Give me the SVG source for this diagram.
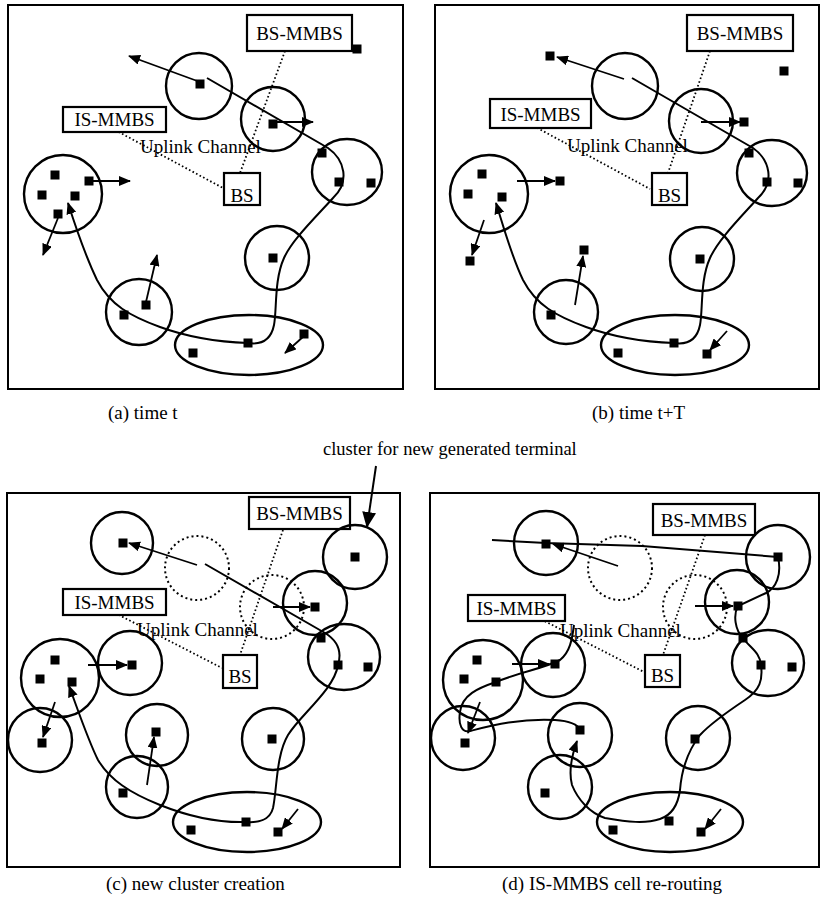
<svg xmlns="http://www.w3.org/2000/svg" width="821" height="901" viewBox="0 0 821 901">
<style>
.fr{fill:none;stroke:#000;stroke-width:2}
.c{fill:none;stroke:#000;stroke-width:2.4}
.dc{fill:none;stroke:#000;stroke-width:2;stroke-dasharray:2 3}
.bx{fill:#fff;stroke:#000;stroke-width:2.2}
.t{font-family:"Liberation Serif","Times New Roman",serif;font-size:19px;fill:#000}
.cap{font-family:"Liberation Serif","Times New Roman",serif;font-size:19px;fill:#000}
.mid{text-anchor:middle}
.sq{fill:#000}
.ln{fill:none;stroke:#000;stroke-width:2}
.ar{fill:none;stroke:#000;stroke-width:1.8;marker-end:url(#ah)}
.dl{fill:none;stroke:#000;stroke-width:1.8;stroke-dasharray:1.6 2.4}
</style>
<defs>
<marker id="ah" viewBox="0 0 12 10" refX="11" refY="5" markerWidth="12" markerHeight="10" markerUnits="userSpaceOnUse" orient="auto"><path d="M0,0 L12,5 L0,10 Z" fill="#000"/></marker>
<marker id="ahL" viewBox="0 0 16 14" refX="15" refY="7" markerWidth="16" markerHeight="14" markerUnits="userSpaceOnUse" orient="auto"><path d="M0,0 L16,7 L0,14 Z" fill="#000"/></marker>
<rect id="s" x="-4.5" y="-4.5" width="9" height="9" class="sq"/>
</defs>

<!-- ===== Panel (a) ===== -->
<g id="panel-a">
<rect class="fr" x="8" y="5" width="395" height="384"/>
<g id="a-links">
<line class="dl" x1="115" y1="130" x2="223" y2="188"/>
<line class="dl" x1="285" y1="51" x2="240" y2="173"/>
<path class="ln" d="M207,78 L328,148 C345,160 350,182 333,198 C315,218 292,240 284,258 C274,280 277,310 274,325 C271,340 262,345 248,343 C220,342 190,338 160,327 C130,316 110,305 97,280 C85,255 75,225 68,203" marker-end="url(#ah)"/>
<line class="ar" x1="200" y1="82" x2="129" y2="56"/>
<line class="ar" x1="273" y1="122" x2="313" y2="122"/>
<line class="ar" x1="89" y1="181" x2="130" y2="181"/>
<line class="ar" x1="58" y1="218" x2="43" y2="255"/>
<line class="ar" x1="146" y1="302" x2="157" y2="255"/>
<line class="ar" x1="304" y1="336" x2="285" y2="353"/>
</g>
<g id="a-bs-mmbs"><rect class="bx" x="247" y="15" width="105" height="36"/><text class="t mid" x="299.5" y="40">BS-MMBS</text></g>
<g id="a-is-mmbs"><rect class="bx" x="63" y="107" width="103" height="25"/><text class="t mid" x="114.5" y="126">IS-MMBS</text></g>
<g id="a-bs"><rect class="bx" x="224" y="173" width="36" height="32"/><text class="t mid" x="242" y="202">BS</text></g>
<text class="t" x="140" y="153">Uplink Channel</text>
<g id="a-c1"><circle class="c" cx="199" cy="86" r="33"/><use href="#s" x="200" y="84"/></g>
<g id="a-c2"><circle class="c" cx="273" cy="119" r="32"/><use href="#s" x="273" y="124"/></g>
<g id="a-c3"><ellipse class="c" cx="347" cy="172" rx="35" ry="33"/><use href="#s" x="322" y="153"/><use href="#s" x="339" y="182"/><use href="#s" x="371" y="183"/></g>
<g id="a-cl"><circle class="c" cx="63" cy="194" r="39"/><use href="#s" x="55" y="175"/><use href="#s" x="89" y="181"/><use href="#s" x="42" y="195"/><use href="#s" x="75" y="196"/><use href="#s" x="58" y="214"/></g>
<g id="a-cm"><circle class="c" cx="139" cy="312" r="33"/><use href="#s" x="124" y="315"/><use href="#s" x="146" y="305"/></g>
<g id="a-cr"><circle class="c" cx="277" cy="258" r="32"/><use href="#s" x="273" y="258"/></g>
<g id="a-e"><ellipse class="c" cx="249" cy="345" rx="74" ry="30"/><use href="#s" x="193" y="353"/><use href="#s" x="248" y="343"/><use href="#s" x="304" y="334"/></g>
<g id="a-lone"><use href="#s" x="357" y="49"/></g>
<text class="cap" x="108" y="419">(a) time t</text>
</g>

<!-- ===== Panel (b) ===== -->
<g id="panel-b">
<rect class="fr" x="435" y="5" width="384" height="384"/>
<g id="b-links">
<line class="dl" x1="530" y1="124" x2="650" y2="189"/>
<line class="dl" x1="710" y1="51" x2="668" y2="173"/>
<path class="ln" d="M632,78 L753,148 C770,160 775,182 758,198 C740,218 718,240 710,258 C700,280 703,310 700,325 C697,340 688,345 674,343 C646,342 616,338 586,327 C556,316 536,305 523,280 C511,255 503,225 496,203" marker-end="url(#ah)"/>
<line class="ar" x1="624" y1="79" x2="557" y2="57"/>
<line class="ar" x1="701" y1="122" x2="740" y2="122"/>
<line class="ar" x1="517" y1="181" x2="555" y2="181"/>
<line class="ar" x1="484" y1="220" x2="472" y2="255"/>
<line class="ar" x1="575" y1="305" x2="583" y2="256"/>
<line class="ar" x1="727" y1="331" x2="710" y2="350"/>
</g>
<g id="b-bs-mmbs"><rect class="bx" x="687" y="15" width="106" height="36"/><text class="t mid" x="740" y="40">BS-MMBS</text></g>
<g id="b-is-mmbs"><rect class="bx" x="490" y="99" width="101" height="29"/><text class="t mid" x="540.5" y="121">IS-MMBS</text></g>
<g id="b-bs"><rect class="bx" x="652" y="173" width="35" height="32"/><text class="t mid" x="669.5" y="202">BS</text></g>
<text class="t" x="567" y="152">Uplink Channel</text>
<g id="b-c1"><circle class="c" cx="625" cy="86" r="33"/></g>
<g id="b-c2"><circle class="c" cx="701" cy="121" r="32"/><use href="#s" x="744" y="122"/></g>
<g id="b-c3"><ellipse class="c" cx="772" cy="173" rx="35" ry="33"/><use href="#s" x="749" y="153"/><use href="#s" x="767" y="182"/><use href="#s" x="798" y="183"/></g>
<g id="b-cl"><circle class="c" cx="489" cy="194" r="39"/><use href="#s" x="482" y="174"/><use href="#s" x="468" y="194"/><use href="#s" x="502" y="197"/><use href="#s" x="560" y="181"/><use href="#s" x="470" y="261"/></g>
<g id="b-cm"><circle class="c" cx="566" cy="312" r="32"/><use href="#s" x="551" y="315"/><use href="#s" x="584" y="250"/></g>
<g id="b-cr"><circle class="c" cx="702" cy="259" r="32"/><use href="#s" x="700" y="259"/></g>
<g id="b-e"><ellipse class="c" cx="675" cy="345" rx="74" ry="30"/><use href="#s" x="618" y="353"/><use href="#s" x="674" y="343"/><use href="#s" x="707" y="354"/></g>
<g id="b-lone"><use href="#s" x="550" y="56"/><use href="#s" x="784" y="71"/></g>
<text class="cap" x="592" y="419">(b) time t+T</text>
</g>

<!-- annotation -->
<g id="annotation">
<text class="cap" x="323" y="455" style="font-size:18.5px">cluster for new generated terminal</text>
<line x1="376" y1="466" x2="367" y2="527" stroke="#000" stroke-width="2" marker-end="url(#ahL)"/>
</g>

<!-- ===== Panel (c) ===== -->
<g id="panel-c">
<rect class="fr" x="7" y="493" width="393" height="374"/>
<g id="c-links">
<line class="dl" x1="115" y1="613" x2="222" y2="668"/>
<line class="dl" x1="283" y1="530" x2="240" y2="655"/>
<path class="ln" d="M205,564 L325,633 C338,641 342,652 338,665 C334,690 300,715 288,735 C276,755 277,790 273,808 C270,820 258,823 246,822 C215,823 185,815 160,805 C130,793 110,780 98,760 C88,740 78,710 69,686" marker-end="url(#ah)"/>
<line class="ar" x1="197" y1="565" x2="129" y2="543"/>
<line class="ar" x1="273" y1="607" x2="310" y2="607"/>
<line class="ar" x1="88" y1="665" x2="127" y2="665"/>
<line class="ar" x1="55" y1="702" x2="43" y2="737"/>
<line class="ar" x1="147" y1="785" x2="154" y2="737"/>
<line class="ar" x1="298" y1="809" x2="282" y2="829"/>
</g>
<g id="c-bs-mmbs"><rect class="bx" x="249" y="497" width="101" height="32"/><text class="t mid" x="299.5" y="520">BS-MMBS</text></g>
<g id="c-is-mmbs"><rect class="bx" x="63" y="589" width="103" height="26"/><text class="t mid" x="114.5" y="609">IS-MMBS</text></g>
<g id="c-bs"><rect class="bx" x="223" y="655" width="34" height="33"/><text class="t mid" x="240" y="683">BS</text></g>
<text class="t" x="137" y="636">Uplink Channel</text>
<g id="c-new-left"><circle class="c" cx="122" cy="543" r="31"/><use href="#s" x="123" y="543"/></g>
<g id="c-dot1"><circle class="dc" cx="197" cy="568" r="32"/></g>
<g id="c-dot2"><circle class="dc" cx="272" cy="607" r="32"/></g>
<g id="c-c2"><circle class="c" cx="315" cy="603" r="32"/><use href="#s" x="315" y="607"/></g>
<g id="c-new-right"><circle class="c" cx="355" cy="557" r="32"/><use href="#s" x="355" y="557"/></g>
<g id="c-c3"><ellipse class="c" cx="344" cy="657" rx="36" ry="33"/><use href="#s" x="321" y="638"/><use href="#s" x="338" y="665"/><use href="#s" x="368" y="667"/></g>
<g id="c-cl"><circle class="c" cx="60" cy="678" r="39"/><use href="#s" x="55" y="660"/><use href="#s" x="40" y="679"/><use href="#s" x="72" y="682"/></g>
<g id="c-new-a"><circle class="c" cx="130" cy="663" r="32"/><use href="#s" x="132" y="665"/></g>
<g id="c-new-b"><circle class="c" cx="40" cy="740" r="32"/><use href="#s" x="42" y="743"/></g>
<g id="c-new-c"><circle class="c" cx="157" cy="735" r="31"/><use href="#s" x="156" y="732"/></g>
<g id="c-cm"><circle class="c" cx="137" cy="787" r="31"/><use href="#s" x="123" y="793"/></g>
<g id="c-cr"><circle class="c" cx="273" cy="739" r="31"/><use href="#s" x="272" y="739"/></g>
<g id="c-e"><ellipse class="c" cx="247" cy="822" rx="74" ry="30"/><use href="#s" x="191" y="830"/><use href="#s" x="246" y="822"/><use href="#s" x="278" y="832"/></g>
<text class="cap" x="106" y="890">(c) new cluster creation</text>
</g>

<!-- ===== Panel (d) ===== -->
<g id="panel-d">
<rect class="fr" x="430" y="493" width="389" height="374"/>
<g id="d-links">
<line class="dl" x1="527" y1="612" x2="644" y2="672"/>
<line class="dl" x1="705" y1="535" x2="663" y2="655"/>
<polyline class="ln" points="492,540 546,543 642,546 778,557"/>
<path class="ln" d="M778,557 C782,575 776,588 766,593 L738,606 C733,615 735,630 743,638 C750,648 760,652 761,665 C763,680 760,690 745,700 C730,710 712,722 700,735 C690,748 682,765 680,790 C678,805 672,815 660,819 C645,824 628,822 605,818 C590,813 578,800 572,785 C568,770 572,755 577,741" marker-end="url(#ah)"/>
<path class="ln" d="M574,625 C572,640 570,652 560,660 C545,668 520,672 496,682 C478,688 462,695 460,712 C458,725 462,733 470,731 C490,726 520,718 555,720 C570,721 578,725 580,730"/>
<line class="ar" x1="618" y1="566" x2="553" y2="544"/>
<line class="ar" x1="695" y1="606" x2="733" y2="606"/>
<line class="ar" x1="512" y1="664" x2="549" y2="664"/>
<line class="ar" x1="480" y1="702" x2="468" y2="733"/>
<line class="ar" x1="721" y1="809" x2="705" y2="829"/>
</g>
<g id="d-bs-mmbs"><rect class="bx" x="653" y="504" width="102" height="31"/><text class="t mid" x="704" y="527">BS-MMBS</text></g>
<g id="d-is-mmbs"><rect class="bx" x="468" y="595" width="97" height="26"/><text class="t mid" x="516.5" y="615">IS-MMBS</text></g>
<g id="d-bs"><rect class="bx" x="645" y="655" width="35" height="32"/><text class="t mid" x="662.5" y="682">BS</text></g>
<text class="t" x="560" y="637">Uplink Channel</text>
<g id="d-new-left"><circle class="c" cx="546" cy="543" r="32"/><use href="#s" x="546" y="544"/></g>
<g id="d-dot1"><circle class="dc" cx="620" cy="568" r="32"/></g>
<g id="d-dot2"><circle class="dc" cx="695" cy="607" r="32"/></g>
<g id="d-c2"><circle class="c" cx="737" cy="602" r="32"/><use href="#s" x="738" y="606"/></g>
<g id="d-new-right"><circle class="c" cx="778" cy="557" r="32"/><use href="#s" x="778" y="557"/></g>
<g id="d-c3"><ellipse class="c" cx="768" cy="663" rx="36" ry="33"/><use href="#s" x="743" y="638"/><use href="#s" x="761" y="665"/><use href="#s" x="792" y="667"/></g>
<g id="d-cl"><circle class="c" cx="483" cy="680" r="40"/><use href="#s" x="477" y="660"/><use href="#s" x="464" y="679"/><use href="#s" x="496" y="682"/></g>
<g id="d-new-a"><circle class="c" cx="553" cy="665" r="32"/><use href="#s" x="555" y="664"/></g>
<g id="d-new-b"><circle class="c" cx="463" cy="738" r="32"/><use href="#s" x="465" y="743"/></g>
<g id="d-new-c"><circle class="c" cx="580" cy="735" r="32"/><use href="#s" x="580" y="730"/></g>
<g id="d-cm"><circle class="c" cx="560" cy="787" r="32"/><use href="#s" x="545" y="793"/></g>
<g id="d-cr"><circle class="c" cx="698" cy="738" r="32"/><use href="#s" x="695" y="739"/></g>
<g id="d-e"><ellipse class="c" cx="670" cy="822" rx="73" ry="30"/><use href="#s" x="613" y="830"/><use href="#s" x="669" y="821"/><use href="#s" x="701" y="832"/></g>
<text class="cap" x="502" y="890">(d) IS-MMBS cell re-routing</text>
</g>
</svg>
